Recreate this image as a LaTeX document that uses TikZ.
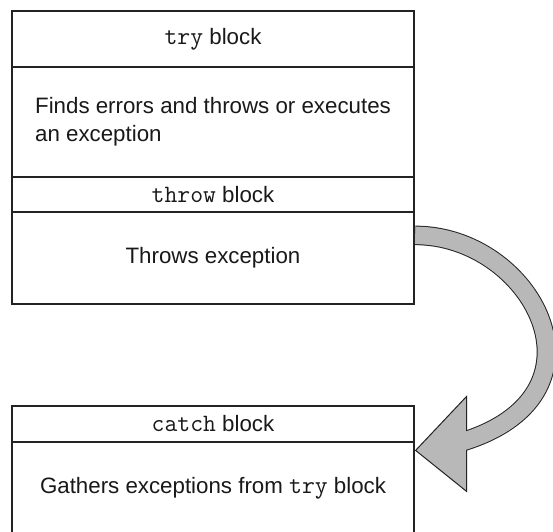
\documentclass[tikz,border=0pt]{standalone}
\usepackage{fontspec}
\setmainfont{Liberation Sans}
\setmonofont[Scale=1.12]{Latin Modern Mono}
\usetikzlibrary{calc}
\definecolor{arrowgray}{RGB}{184,184,184}
\definecolor{boxline}{RGB}{35,35,35}
\begin{document}
\begin{tikzpicture}[x=1pt,y=-1pt,
  blk/.style={draw=boxline, line width=1.2pt, minimum width=402pt, inner sep=0pt,
    font=\fontsize{22.3}{28}\selectfont, align=left, text=black!90},
  bandout/.style={draw=boxline, line width=19.5pt},
  bandin/.style={draw=arrowgray, line width=17.5pt},
  headstyle/.style={fill=arrowgray, draw=boxline, line width=1pt, line join=miter}
]
\useasboundingbox (0,0) rectangle (553,531);
\fill[white] (0,0) rectangle (553,531);

% boxes
\node[blk, minimum height=56pt] (tryhead) at (213,39) {\texttt{try} block};
\node[blk, minimum height=110pt] (trybody) at (213,122) {Finds errors and throws or executes\\an exception};
\node[blk, minimum height=35pt] (throwhead) at (213,194.5) {\texttt{throw} block};
\node[blk, minimum height=92pt] (throwbody) at (213,258) {Throws exception};
\node[blk, minimum height=36pt] (catchhead) at (213,424) {\texttt{catch} block};
\node[blk, minimum height=103pt] (catchbody) at (213,493.5) {};
\node[font=\fontsize{22.3}{28}\selectfont, text=black!90, inner sep=0pt] (catchtext) at (213,488) {Gathers exceptions from \texttt{try} block};

% curved arrow from throw block to catch block
\coordinate (s) at ($(throwbody.north east)+(0.6,24)$);
\coordinate (c1) at ($(s)+(116,0)$);
\coordinate (e) at ($(catchbody.north east)+(52,-1)$);
\coordinate (c2) at ($(e)+(149,-49)$);
\coordinate (e2) at ($(e)+(-11,3.6)$);
\coordinate (tip) at ($(catchbody.north east)+(1,9)$);
\coordinate (bt) at ($(catchbody.north east)+(52,-45)$);
\coordinate (bb) at ($(catchbody.north east)+(52,50)$);

\draw[bandout] (s) .. controls (c1) and (c2) .. (e) -- (e2);
\path[headstyle] (tip) -- (bt) -- (bb) -- cycle;
\draw[bandin] (s) .. controls (c1) and (c2) .. (e) -- (e2);

% box border on top of the arrow's start
\draw[draw=boxline, line width=1.2pt] (throwbody.north east) -- (throwbody.south east);
\end{tikzpicture}
\end{document}
